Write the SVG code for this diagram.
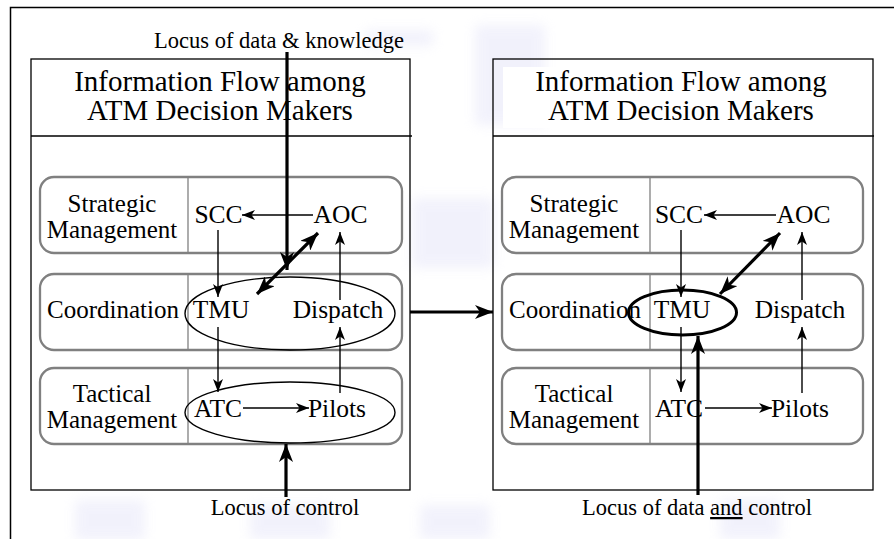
<svg xmlns="http://www.w3.org/2000/svg" width="894" height="539" viewBox="0 0 894 539" font-family="'Liberation Serif', 'DejaVu Serif', serif">
<defs>
<filter id="blur" x="-50%" y="-50%" width="200%" height="200%"><feGaussianBlur stdDeviation="6"/></filter>
<marker id="ah" markerUnits="userSpaceOnUse" markerWidth="14" markerHeight="10" refX="13" refY="5" orient="auto-start-reverse"><path d="M0,0 L13,5 L0,10 L3.5,5 Z" fill="#000"/></marker>
<marker id="ahb" markerUnits="userSpaceOnUse" markerWidth="19" markerHeight="14" refX="18" refY="7" orient="auto-start-reverse"><path d="M0,0 L18,7 L0,14 L5,7 Z" fill="#000"/></marker>
</defs>
<style>
text{font-family:'Liberation Serif','DejaVu Serif',serif;fill:#000;text-anchor:middle}
.title{font-size:29px}
.lab{font-size:25px}
.node{font-size:25.5px}
.loc{font-size:22.5px}
.panel{fill:none;stroke:#000;stroke-width:1.3}
.row{fill:none;stroke:#808080;stroke-width:2.3}
.div{stroke:#808080;stroke-width:1.3}
.thin{stroke:#000;stroke-width:1.4;fill:none;marker-end:url(#ah)}
.thick{stroke:#000;stroke-width:3.2;fill:none;marker-end:url(#ahb)}
.ell{fill:none;stroke:#000;stroke-width:1.4}
</style>
<rect width="894" height="539" fill="#fff"/>
<g id="watermark" fill="#d4d4f4" opacity="0.3" filter="url(#blur)">
<rect x="365" y="30" width="68" height="16"/>
<rect x="475" y="25" width="70" height="100"/>
<rect x="412" y="198" width="82" height="70"/>
<rect x="75" y="500" width="70" height="40"/>
<rect x="250" y="505" width="80" height="34"/>
<rect x="420" y="505" width="70" height="34"/>
<rect x="720" y="500" width="60" height="39"/>
</g>
<rect id="frame" x="10.5" y="7.5" width="900" height="600" fill="none" stroke="#000" stroke-width="1.5"/>
<g id="panel-left">
<rect class="panel" x="31" y="59" width="379" height="431"/>
<line x1="31" y1="136" x2="412" y2="136" stroke="#000" stroke-width="1.3"/>
<rect x="64" y="67" width="332" height="61" fill="#fff"/>
<text class="title" x="220" y="91">Information Flow among</text>
<text class="title" x="220" y="120">ATM Decision Makers</text>
</g>
<g id="panel-right">
<rect class="panel" x="493" y="59" width="380" height="431"/>
<line x1="493" y1="136" x2="874" y2="136" stroke="#000" stroke-width="1.3"/>
<rect x="503" y="67" width="332" height="61" fill="#fff"/>
<text class="title" x="681" y="91">Information Flow among</text>
<text class="title" x="681" y="120">ATM Decision Makers</text>
</g>
<g id="rows-left">
<rect class="row" x="40" y="177" width="362" height="76" rx="14"/>
<line class="div" x1="188" y1="177" x2="188" y2="253"/>
<text class="lab" x="112" y="212">Strategic</text>
<text class="lab" x="112" y="238">Management</text>
<rect class="row" x="40" y="274" width="362" height="76" rx="14"/>
<line class="div" x1="188" y1="274" x2="188" y2="350"/>
<text class="lab" x="113" y="318">Coordination</text>
<rect class="row" x="40" y="368" width="362" height="76" rx="14"/>
<line class="div" x1="188" y1="368" x2="188" y2="444"/>
<text class="lab" x="112" y="402">Tactical</text>
<text class="lab" x="112" y="428">Management</text>
</g>
<g id="rows-right">
<rect class="row" x="502" y="177" width="361" height="76" rx="14"/>
<line class="div" x1="650" y1="177" x2="650" y2="253"/>
<text class="lab" x="574" y="212">Strategic</text>
<text class="lab" x="574" y="238">Management</text>
<rect class="row" x="502" y="274" width="361" height="76" rx="14"/>
<line class="div" x1="650" y1="274" x2="650" y2="350"/>
<text class="lab" x="575" y="318">Coordination</text>
<rect class="row" x="502" y="368" width="361" height="76" rx="14"/>
<line class="div" x1="650" y1="368" x2="650" y2="444"/>
<text class="lab" x="574" y="402">Tactical</text>
<text class="lab" x="574" y="428">Management</text>
</g>
<g id="nodes-left">
<g id="L-SCC"><text class="node" x="218.5" y="223">SCC</text></g>
<g id="L-AOC"><text class="node" x="340.5" y="223">AOC</text></g>
<g id="L-TMU"><text class="node" x="221" y="318">TMU</text></g>
<g id="L-Dispatch"><text class="node" x="338" y="318">Dispatch</text></g>
<g id="L-ATC"><text class="node" x="218" y="417">ATC</text></g>
<g id="L-Pilots"><text class="node" x="337" y="417">Pilots</text></g>
<ellipse class="ell" cx="290" cy="313.5" rx="105" ry="36.5"/>
<ellipse class="ell" cx="290" cy="412.5" rx="105" ry="30.5"/>
</g>
<g id="nodes-right">
<g id="R-SCC"><text class="node" x="679" y="223">SCC</text></g>
<g id="R-AOC"><text class="node" x="803.5" y="223">AOC</text></g>
<g id="R-TMU"><text class="node" x="682" y="318">TMU</text></g>
<g id="R-Dispatch"><text class="node" x="800" y="318">Dispatch</text></g>
<g id="R-ATC"><text class="node" x="679" y="417">ATC</text></g>
<g id="R-Pilots"><text class="node" x="800" y="417">Pilots</text></g>
<ellipse cx="682.5" cy="312.5" rx="54" ry="22.5" fill="none" stroke="#000" stroke-width="3"/>
</g>
<g id="connectors">
<line class="thin" x1="313" y1="215" x2="242" y2="215"/>
<line class="thin" x1="218" y1="230" x2="218" y2="297"/>
<line class="thin" x1="218" y1="327" x2="218" y2="392"/>
<line class="thin" x1="243" y1="408" x2="309" y2="408"/>
<line class="thin" x1="340" y1="300" x2="340" y2="232"/>
<line class="thin" x1="340" y1="393" x2="340" y2="327"/>
<line class="thin" x1="776" y1="215" x2="704" y2="215"/>
<line class="thin" x1="681" y1="230" x2="681" y2="297"/>
<line class="thin" x1="681" y1="327" x2="681" y2="392"/>
<line class="thin" x1="705" y1="408" x2="772" y2="408"/>
<line class="thin" x1="802" y1="300" x2="802" y2="232"/>
<line class="thin" x1="802" y1="393" x2="802" y2="327"/>
<line class="thick" x1="257" y1="294" x2="318" y2="233" marker-start="url(#ahb)"/>
<line class="thick" x1="287" y1="52" x2="287" y2="270"/>
<line class="thick" x1="286" y1="497" x2="286" y2="444"/>
<line class="thick" x1="410" y1="312" x2="493" y2="312"/>
<line class="thick" x1="720" y1="294" x2="780" y2="233" marker-start="url(#ahb)"/>
<line class="thick" x1="698" y1="495" x2="698" y2="336"/>
</g>
<g id="labels">
<text class="loc" x="279" y="48">Locus of data &amp; knowledge</text>
<text class="loc" x="285" y="515">Locus of control</text>
<text class="loc" x="697" y="515">Locus of data <tspan text-decoration="underline">and</tspan> control</text>
</g>
</svg>
